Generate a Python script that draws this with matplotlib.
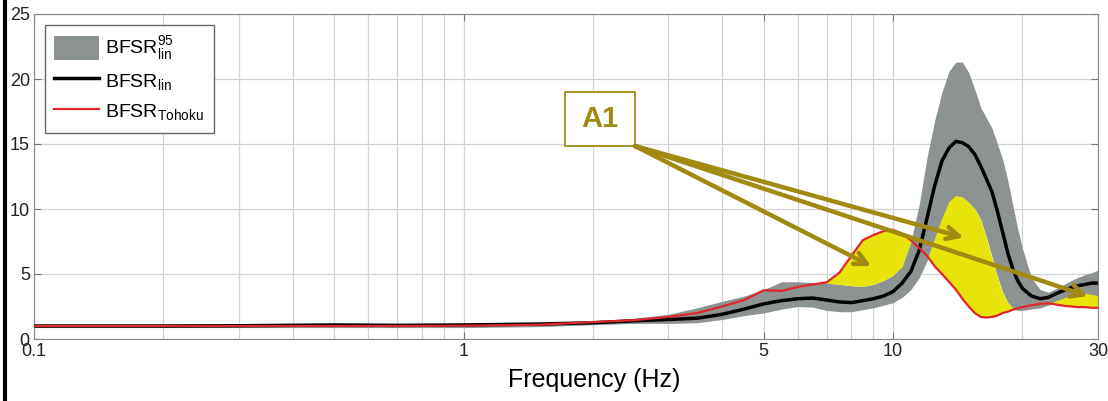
import matplotlib.pyplot as plt
from matplotlib.lines import Line2D
from matplotlib.patches import Rectangle
import numpy as np

plt.rcParams['font.family'] = ['Liberation Sans', 'DejaVu Sans']
plt.rcParams['mathtext.fontset'] = 'custom'
plt.rcParams['mathtext.rm'] = 'Liberation Sans'

# data
freq = [0.1, 0.2, 0.3, 0.5, 0.7, 1.0, 1.5, 2.0, 2.5, 3.0, 3.5, 4.0, 4.5, 5.0, 5.5,
        6.0, 6.5, 7.0, 7.5, 8.0, 8.5, 9.0, 9.5, 10.0, 10.5, 11.0, 11.5, 12.0, 12.5,
        13.0, 13.5, 14.0, 14.5, 15.0, 15.5, 16.0, 16.5, 17.0, 17.5, 18.0, 18.5,
        19.0, 19.5, 20.0, 21.0, 22.0, 23.0, 24.0, 25.0, 26.0, 27.0, 28.0, 29.0, 30.0]
bfsr_lin = [1.0, 1.0, 1.02, 1.08, 1.05, 1.08, 1.15, 1.25, 1.4, 1.5, 1.6, 1.9, 2.3, 2.7, 2.95,
            3.1, 3.15, 3.0, 2.85, 2.8, 2.95, 3.1, 3.3, 3.65, 4.3, 5.2, 6.8, 9.3, 11.8,
            13.7, 14.7, 15.2, 15.1, 14.8, 14.2, 13.3, 12.3, 11.3, 9.8, 8.2, 6.6,
            5.4, 4.5, 3.9, 3.3, 3.1, 3.2, 3.5, 3.75, 3.95, 4.1, 4.2, 4.3, 4.3]
bfsr_tohoku = [1.0, 1.0, 1.0, 1.0, 1.0, 1.02, 1.1, 1.3, 1.45, 1.7, 2.0, 2.5, 3.0, 3.75, 3.7,
               4.0, 4.2, 4.35, 5.1, 6.4, 7.6, 8.0, 8.3, 8.4, 8.1, 7.6, 7.0, 6.4, 5.6,
               5.0, 4.4, 3.8, 3.1, 2.5, 2.0, 1.7, 1.65, 1.7, 1.8, 2.0, 2.1,
               2.25, 2.35, 2.45, 2.6, 2.7, 2.75, 2.65, 2.55, 2.5, 2.45, 2.45, 2.4, 2.4]
band_hi = [1.12, 1.12, 1.12, 1.12, 1.12, 1.12, 1.2, 1.35, 1.6, 1.9, 2.4, 2.9, 3.3, 3.8, 4.4,
           4.4, 4.35, 4.3, 4.2, 4.1, 4.05, 4.2, 4.5, 4.9, 5.6, 7.5, 10.3, 14.0, 16.8,
           19.0, 20.6, 21.3, 21.3, 20.5, 19.2, 17.8, 17.0, 16.2, 15.0, 13.8, 12.2,
           10.3, 8.5, 7.0, 4.7, 3.8, 3.6, 3.9, 4.2, 4.5, 4.75, 4.95, 5.1, 5.3]
band_lo = [0.88, 0.88, 0.88, 0.88, 0.88, 0.88, 0.95, 1.1, 1.2, 1.2, 1.25, 1.5, 1.8, 2.0, 2.3,
           2.5, 2.45, 2.2, 2.1, 2.1, 2.25, 2.4, 2.6, 2.8, 3.2, 3.8, 4.7, 6.0, 7.6,
           9.2, 10.5, 11.0, 10.9, 10.5, 10.0, 9.2, 7.8, 6.3, 4.8, 3.6, 2.8,
           2.4, 2.2, 2.2, 2.3, 2.4, 2.6, 2.9, 3.1, 3.3, 3.4, 3.45, 3.4, 3.3]
arrow_tips = [(8.9, 5.6), (14.6, 7.8), (28.4, 3.3)]

f = np.array(freq)
lin = np.array(bfsr_lin)
toh = np.array(bfsr_tohoku)
hi = np.array(band_hi)
lo = np.array(band_lo)

fig = plt.figure(figsize=(11.08, 4.01), dpi=100)
ax = fig.add_axes([34/1108, 1 - 339/401, 1064/1108, 325/401])

grey = '#8d9292'
yellow = '#e6e40a'
olive = '#a08a12'

ax.fill_between(f, lo, hi, color=grey, lw=0, label=r'BFSR$^{95}_{\mathrm{lin}}$', zorder=2)
ax.fill_between(f, hi, toh, where=toh > hi, interpolate=True, color=yellow, lw=0, zorder=2)
ax.fill_between(f, toh, lo, where=toh < lo, interpolate=True, color=yellow, lw=0, zorder=2)
ax.plot(f, lin, color='black', lw=2.5, label=r'BFSR$_{\mathrm{lin}}$', zorder=3)
ax.plot(f, toh, color='#e0262a', lw=1.6, label=r'BFSR$_{\mathrm{Tohoku}}$', zorder=4)

ax.set_xscale('log')
ax.set_xlim(0.1, 30)
ax.set_ylim(0, 25)
ax.set_xticks([0.1, 1, 5, 10, 30])
ax.set_xticklabels(['0.1', '1', '5', '10', '30'])
ax.set_xticks([0.2, 0.3, 0.4, 0.5, 0.6, 0.7, 0.8, 0.9, 2, 3, 4, 6, 7, 8, 9, 20], minor=True)
ax.set_yticks([0, 5, 10, 15, 20, 25])
ax.grid(True, which='both', color='#d2d2d2', lw=0.9, zorder=0)
ax.set_axisbelow(True)
ax.tick_params(which='both', direction='in', top=True, right=True, labelsize=13,
               color='#777777', length=5, pad=3, labelcolor='#222222')
ax.tick_params(which='minor', length=0)
for s in ax.spines.values():
    s.set_color('#888888')
ax.set_xlabel('Frequency (Hz)', fontsize=18)
ax.xaxis.set_label_coords((594 - 34) / 1064, -0.09)

leg = ax.legend(loc='upper left', fontsize=14, handlelength=2.3, handleheight=1.5,
                handletextpad=0.3, borderaxespad=0.55, borderpad=0.5, labelspacing=0.35,
                fancybox=False, framealpha=1)
leg.get_frame().set_edgecolor('#666666')
leg.get_frame().set_linewidth(1.0)

# A1 box with arrows
bx, by, bw, bh = (565 - 34) / 1064, (339 - 146) / 325, 70 / 1064, 54 / 325
ax.add_patch(Rectangle((bx, by), bw, bh, transform=ax.transAxes, fill=True,
                       facecolor='white', edgecolor=olive, lw=1.3, zorder=6))
ax.text(bx + bw / 2, by + bh / 2, 'A1', transform=ax.transAxes, ha='center', va='center',
        fontsize=21, fontweight='bold', color=olive, zorder=7)
for tip in arrow_tips:
    ax.annotate('', xy=tip, xycoords='data', xytext=(bx + bw, by), textcoords='axes fraction',
                arrowprops=dict(arrowstyle='->', color=olive, lw=3.2, mutation_scale=22,
                                shrinkA=0, shrinkB=0), zorder=8)

# black bar at the left edge of the figure
fig.add_artist(Line2D([5/1108, 5/1108], [0, 1], transform=fig.transFigure, color='black', lw=3))

fig.savefig('out.png', dpi=100)
